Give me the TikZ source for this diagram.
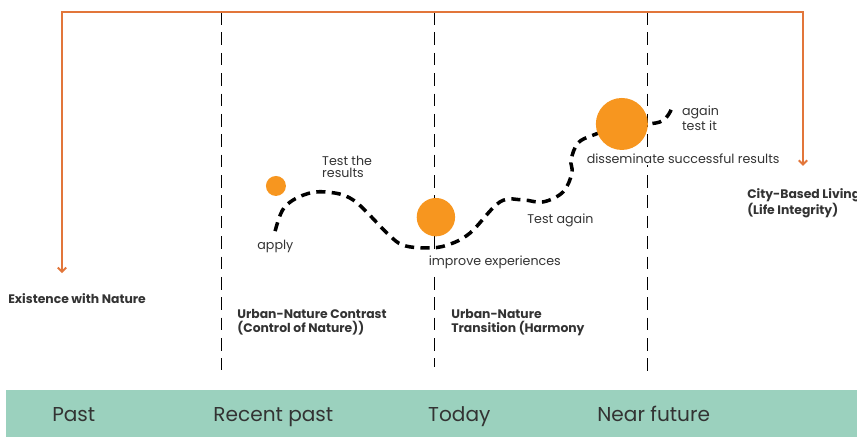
\documentclass[tikz,border=0pt]{standalone}
\usepackage{fontspec}
\setmainfont{Poppins}
\usetikzlibrary{arrows.meta}
\definecolor{framecol}{RGB}{226,118,58}
\definecolor{dotcol}{RGB}{247,150,31}
\definecolor{bandcol}{RGB}{155,209,190}
\definecolor{txtcol}{RGB}{51,51,51}
\begin{document}
\begin{tikzpicture}[
	lbl/.style={txtcol, inner sep=0pt, font=\fontsize{9}{9}\selectfont, align=left},
	boldlbl/.style={txtcol, inner sep=0pt, font=\fontsize{8.8}{9.6}\selectfont\bfseries, align=left},
	era/.style={txtcol, inner sep=0pt, font=\fontsize{14.3}{16}\selectfont},
	orb/.style={circle, fill=dotcol, draw=none, inner sep=0pt},
	divider/.style={draw=black, line width=0.85pt, dash pattern=on 9pt off 5.5pt},
	route/.style={draw=black, line width=2.5pt, dash pattern=on 6.5pt off 4.5pt},
	frame/.style={draw=framecol, line width=1.4pt, {Straight Barb[length=3pt,width=6pt]}-{Straight Barb[length=3pt,width=6pt]}}]
	\useasboundingbox (0.00,0.00) rectangle (21.43,10.93);
	\fill[bandcol] (0.15,0.00) rectangle (21.43,1.18);
	\node[era, anchor=base west] (past) at (1.30,0.38) {Past};
	\node[era, anchor=base west] (recent) at (5.33,0.38) {Recent past};
	\node[era, anchor=base west] (today) at (10.70,0.38) {Today};
	\node[era, anchor=base west] (near) at (14.93,0.38) {Near future};
	\draw[divider] (5.53,10.63) -- (5.53,1.68);
	\draw[divider] (10.87,10.63) -- (10.87,1.75);
	\draw[divider] (16.20,10.63) -- (16.20,1.60);
	\coordinate (lstart) at (1.55,4.10);
	\coordinate (ltop) at (10.00,10.63);
	\coordinate (rend) at (20.08,6.78);
	\draw[frame] (lstart) |- (ltop) -| (rend);
	\draw[route] plot[smooth, tension=0.6] coordinates {(6.88,5.15) (7.10,5.73) (7.58,6.05) (8.13,6.13) (8.83,5.93) (9.68,5.10) (10.08,4.80) (10.68,4.73) (11.18,4.80) (11.75,5.10) (12.50,5.88) (13.08,5.93) (13.58,5.88) (14.08,6.13) (14.30,6.60) (14.28,6.93) (14.45,7.35) (14.83,7.55) (15.55,7.78) (16.50,7.88) (16.80,8.23)};
	\node[orb, minimum size=0.50cm] (orbA) at (6.90,6.28) {};
	\node[orb, minimum size=0.96cm] (orbB) at (10.90,5.50) {};
	\node[orb, minimum size=1.30cm] (orbC) at (15.55,7.83) {};
	\node[lbl, anchor=north west] (testres) at (8.05,7.04) {Test the\\results};
	\node[lbl, anchor=base west] (apply) at (6.43,4.68) {apply};
	\node[lbl, anchor=base west, fill=white, inner sep=1pt] (improve) at (10.68,4.30) {improve experiences};
	\node[lbl, anchor=base west] (testagain) at (13.18,5.33) {Test again};
	\node[lbl, anchor=base west, fill=white, inner sep=1pt] (dissem) at (14.63,6.83) {disseminate successful results};
	\node[lbl, anchor=north west] (againtest) at (17.05,8.28) {again\\test it};
	\node[boldlbl, anchor=north west] (city) at (18.68,6.22) {City-Based Living\\(Life Integrity)};
	\node[boldlbl, anchor=base west] (exist) at (0.20,3.35) {Existence with Nature};
	\node[boldlbl, anchor=north west] (contrast) at (5.93,3.20) {Urban-Nature Contrast\\(Control of Nature))};
	\node[boldlbl, anchor=north west] (transit) at (11.28,3.20) {Urban-Nature\\Transition (Harmony};
\end{tikzpicture}
\end{document}
